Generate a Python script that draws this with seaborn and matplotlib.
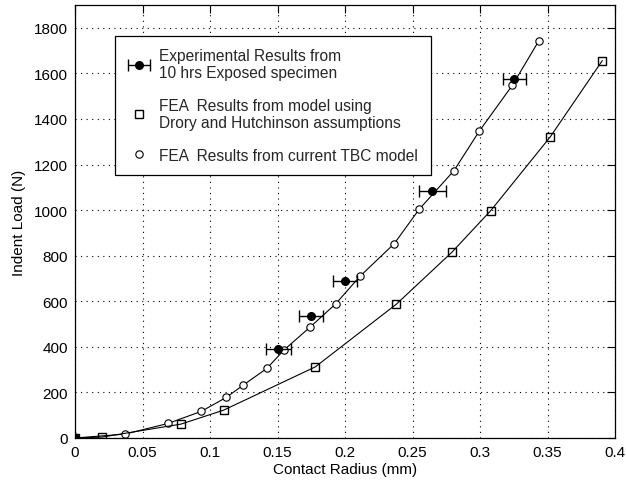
import numpy as np
import pandas as pd
import matplotlib
matplotlib.use("Agg")
import matplotlib.pyplot as plt
from matplotlib.lines import Line2D
from matplotlib.legend_handler import HandlerErrorbar
import seaborn as sns

# ---- data ----
tbc_radius = [0.0, 0.037, 0.069, 0.0936, 0.112, 0.1244, 0.142, 0.155, 0.174, 0.193,
              0.211, 0.2365, 0.255, 0.2807, 0.2993, 0.324, 0.3435]
tbc_load = [0, 17, 64, 117, 178, 231, 305, 387, 486, 588,
            709, 853, 1004, 1173, 1345, 1548, 1742]

dh_radius = [0.0, 0.020, 0.0785, 0.110, 0.178, 0.238, 0.279, 0.308, 0.352, 0.3906]
dh_load = [0, 4, 61, 122, 312, 587, 814, 998, 1321, 1656]

exp_radius = [0.0, 0.1506, 0.1748, 0.200, 0.2647, 0.3254]
exp_load = [0, 389, 537, 690, 1085, 1577]
exp_xerr = [0.0, 0.0094, 0.0091, 0.0091, 0.0098, 0.0084]

x_ticks = [0, 0.05, 0.1, 0.15, 0.2, 0.25, 0.3, 0.35, 0.4]
x_tick_labels = ["0", "0.05", "0.1", "0.15", "0.2", "0.25", "0.3", "0.35", "0.4"]
y_ticks = [0, 200, 400, 600, 800, 1000, 1200, 1400, 1600, 1800]

label_exp = "Experimental Results from\n10 hrs Exposed specimen"
label_dh = "FEA  Results from model using\nDrory and Hutchinson assumptions"
label_tbc = "FEA  Results from current TBC model"

# ---- style ----
sns.set_theme(style="white")
plt.rcParams["font.family"] = ["Liberation Sans", "DejaVu Sans"]
plt.rcParams["font.size"] = 11

fig = plt.figure(figsize=(6.26, 4.85), dpi=100)
ax = fig.add_axes([75 / 626, 46 / 485, 540 / 626, 433 / 485])

df_tbc = pd.DataFrame({"r": tbc_radius, "F": tbc_load})
df_dh = pd.DataFrame({"r": dh_radius, "F": dh_load})

sns.lineplot(data=df_tbc, x="r", y="F", ax=ax, color="black", linewidth=0.8,
             marker="o", markersize=5.3, markerfacecolor="white",
             markeredgecolor="black", markeredgewidth=0.8, sort=False)
sns.lineplot(data=df_dh, x="r", y="F", ax=ax, color="black", linewidth=0.8,
             marker="s", markersize=5.8, markerfacecolor="none",
             markeredgecolor="black", markeredgewidth=1.0, sort=False)

eb = ax.errorbar(exp_radius, exp_load, xerr=exp_xerr, fmt="o", color="black",
                 markersize=5.5, capsize=4, elinewidth=1.0, capthick=1.0,
                 zorder=5)

ax.set_xlim(0, 0.4)
ax.set_ylim(0, 1900)
ax.set_xticks(x_ticks)
ax.set_xticklabels(x_tick_labels)
ax.set_yticks(y_ticks)

ax.grid(True, color="black", linestyle=(0, (1, 4)), linewidth=0.8)
ax.tick_params(direction="in", length=6, width=0.8, top=True, right=True,
               labelsize=11, colors="black", pad=5)
for s in ax.spines.values():
    s.set_color("black")
    s.set_linewidth(0.9)

ax.set_xlabel("Contact Radius (mm)", fontsize=11, color="black", labelpad=2)
ax.set_ylabel("Indent Load (N)", fontsize=11, color="black", labelpad=6)

h_dh = Line2D([], [], marker="s", linestyle="none", markersize=5.8,
              markerfacecolor="none", markeredgecolor="black", markeredgewidth=1.0)
h_tbc = Line2D([], [], marker="o", linestyle="none", markersize=5.3,
               markerfacecolor="none", markeredgecolor="black", markeredgewidth=0.8)

leg = ax.legend([eb, h_dh, h_tbc], [label_exp, label_dh, label_tbc],
                loc="upper left", bbox_to_anchor=(0.074, 0.929),
                borderaxespad=0, fancybox=False, framealpha=1,
                edgecolor="black", fontsize=11.2, labelspacing=1.15,
                handlelength=1.5, handletextpad=0.55, borderpad=0.8,
                handler_map={type(eb): HandlerErrorbar(xerr_size=0.7)})
leg.get_frame().set_linewidth(0.9)
for t in leg.get_texts():
    t.set_linespacing(1.15)

fig.savefig("out.png", dpi=100)
